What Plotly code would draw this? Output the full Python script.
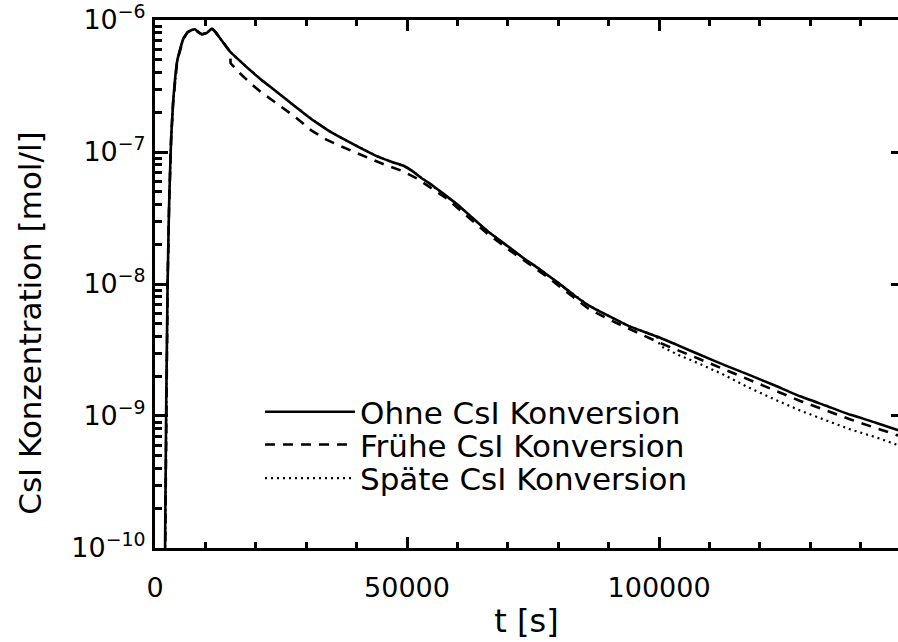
import plotly.graph_objects as go

# ---- data ----
t_ohne = [1900, 2200, 2500, 2800, 3200, 3600, 4400, 5600, 6500, 7300, 7900, 8600, 9300,
          10300, 11300, 12000, 13000, 14900, 17000, 19000, 21000, 23000, 25000, 27000,
          29000, 31000, 33000, 35000, 38000, 41000, 44000, 47000, 49500, 51000, 53000,
          55000, 57000, 60000, 63000, 66000, 70000, 73000, 76000, 80000, 83000, 86000,
          89700, 94000, 99600, 104000, 108000, 113000, 118000, 123000, 128000, 133000,
          138000, 143000, 147500]
c_ohne = [3.2e-11, 1.0e-9, 1.0e-8, 4.0e-8, 1.26e-7, 2.4e-7, 4.9e-7, 7.2e-7, 8.1e-7,
          8.4e-7, 8.5e-7, 8.1e-7, 7.8e-7, 8.0e-7, 8.6e-7, 8.1e-7, 7.2e-7, 5.75e-7,
          4.84e-7, 4.12e-7, 3.55e-7, 3.09e-7, 2.69e-7, 2.34e-7, 2.04e-7, 1.78e-7,
          1.58e-7, 1.41e-7, 1.22e-7, 1.06e-7, 9.3e-8, 8.4e-8, 7.8e-8, 7.2e-8, 6.3e-8,
          5.6e-8, 4.9e-8, 4.0e-8, 3.16e-8, 2.51e-8, 1.93e-8, 1.58e-8, 1.32e-8, 1.02e-8,
          8.3e-9, 6.9e-9, 5.8e-9, 4.8e-9, 4.0e-9, 3.4e-9, 2.92e-9, 2.43e-9, 2.04e-9,
          1.70e-9, 1.41e-9, 1.20e-9, 1.02e-9, 8.9e-10, 7.8e-10]

# early conversion branch (starts at t = 15000 s)
t_fruehe = [15000, 17000, 19000, 21000, 23000, 25000, 28000, 31000, 34000, 37000, 40000,
            43000, 46000, 49000, 52000, 55000, 58000, 62000, 66000, 70000, 74000, 78000,
            82000, 86000, 90000, 95000, 100000, 108000, 118000, 128000, 138000, 147500]
c_fruehe = [4.7e-7, 3.9e-7, 3.3e-7, 2.85e-7, 2.51e-7, 2.21e-7, 1.82e-7, 1.46e-7, 1.24e-7,
            1.10e-7, 9.8e-8, 8.8e-8, 7.9e-8, 7.2e-8, 6.3e-8, 5.3e-8, 4.4e-8, 3.24e-8,
            2.4e-8, 1.84e-8, 1.43e-8, 1.12e-8, 8.5e-9, 6.5e-9, 5.4e-9, 4.4e-9, 3.6e-9,
            2.7e-9, 1.88e-9, 1.30e-9, 9.4e-10, 7.1e-10]

# late conversion branch (starts at t = 100000 s)
t_spaete = [100200, 104000, 108100, 113000, 117500, 123000, 128000, 133000, 138000,
            143000, 147500]
c_spaete = [3.4e-9, 2.88e-9, 2.48e-9, 2.04e-9, 1.66e-9, 1.33e-9, 1.10e-9, 9.3e-10,
            7.9e-10, 6.9e-10, 6.0e-10]

series_names = ["Ohne CsI Konversion", "Frühe CsI Konversion", "Späte CsI Konversion"]

x_tickvals = [0, 50000, 100000]
x_ticktext = ["0", "50000", "100000"]
x_range = [0, 147400]
y_tickvals = [1e-10, 1e-9, 1e-8, 1e-7, 1e-6]
y_ticktext = ["10<sup>−10</sup>", "10<sup>−9</sup>", "10<sup>−8</sup>",
              "10<sup>−7</sup>", "10<sup>−6</sup>"]
y_minor_vals = [k * 10.0 ** d for d in range(-10, -6) for k in range(2, 10)]
y_range_log = [-10.0002, -5.9998]

# build full curves (branches share the base curve before their start time)
t_fr_full = [t for t in t_ohne if t < t_fruehe[0]] + t_fruehe
c_fr_full = [c for t, c in zip(t_ohne, c_ohne) if t < t_fruehe[0]] + c_fruehe
t_sp_full = [t for t in t_ohne if t < t_spaete[0]] + t_spaete
c_sp_full = [c for t, c in zip(t_ohne, c_ohne) if t < t_spaete[0]] + c_spaete

FONT = "DejaVu Sans"
PW, PH, L, B = 743.0, 532.0, 155.0, 548.0


def px(xp):
    return (xp - L) / PW


def py(yp):
    return (B - yp) / PH


fig = go.Figure()
fig.add_trace(go.Scatter(x=t_ohne, y=c_ohne, mode="lines", name=series_names[0],
                         legend="legend",
                         line=dict(color="black", width=2.6, shape="spline",
                                   smoothing=0.4)))
fig.add_trace(go.Scatter(x=t_fr_full, y=c_fr_full, mode="lines", name=series_names[1],
                         legend="legend2",
                         line=dict(color="black", width=2.6, dash="10px,8px")))
fig.add_trace(go.Scatter(x=t_sp_full, y=c_sp_full, mode="lines", name=series_names[2],
                         legend="legend3",
                         line=dict(color="black", width=2.2, dash="2px,4px")))
# helper (empty) trace for the mirrored top / right axes
fig.add_trace(go.Scatter(x=[], y=[], xaxis="x2", yaxis="y2", showlegend=False,
                         hoverinfo="skip"))

leg_common = dict(xanchor="left", yanchor="middle", bgcolor="rgba(0,0,0,0)",
                  borderwidth=0, itemwidth=90,
                  font=dict(family=FONT, size=31, color="black"))
tick_common = dict(ticks="inside", tickwidth=3, tickcolor="black")

fig.update_layout(
    width=898, height=642,
    margin=dict(l=155, r=0, t=16, b=94),
    paper_bgcolor="white", plot_bgcolor="white",
    font=dict(family=FONT, color="black", size=27),
    showlegend=True,
    legend=dict(x=px(260), y=py(411), **leg_common),
    legend2=dict(x=px(260), y=py(444), **leg_common),
    legend3=dict(x=px(260), y=py(478), **leg_common),
    xaxis=dict(range=x_range, showgrid=False, zeroline=False, showline=True,
               linecolor="black", linewidth=3, ticklen=11, **tick_common,
               tickmode="array", tickvals=x_tickvals, ticktext=x_ticktext,
               ticklabelstandoff=14, tickfont=dict(family=FONT, size=27),
               ticklabeloverflow="allow",
               minor=dict(ticklen=6, dtick=10000, showgrid=False, **tick_common),
               title=dict(text="t [s]", font=dict(family=FONT, size=32), standoff=8)),
    xaxis2=dict(range=x_range, overlaying="x", side="top", anchor="y2", showgrid=False,
                zeroline=False, showline=True, linecolor="black", linewidth=3,
                ticklen=11, **tick_common, tickmode="array", tickvals=x_tickvals,
                showticklabels=False,
                minor=dict(ticklen=6, dtick=10000, showgrid=False, **tick_common)),
    yaxis=dict(type="log", range=y_range_log, showgrid=False, zeroline=False,
               showline=True, linecolor="black", linewidth=3, ticklen=13, **tick_common,
               tickmode="array", tickvals=y_tickvals, ticktext=y_ticktext,
               ticklabelstandoff=1, tickfont=dict(family=FONT, size=27),
               ticklabeloverflow="allow",
               minor=dict(ticklen=7, tickmode="array", tickvals=y_minor_vals,
                          showgrid=False, **tick_common)),
    yaxis2=dict(type="log", range=y_range_log, overlaying="y", side="right", anchor="x2",
                showgrid=False, zeroline=False, showline=False, ticklen=7,
                **tick_common, tickmode="array", tickvals=y_tickvals,
                showticklabels=False),
    annotations=[dict(text="CsI Konzentration [mol/l]", xref="paper", yref="paper",
                      x=px(30), y=py(322), xanchor="center", yanchor="middle",
                      textangle=-90, showarrow=False,
                      font=dict(family=FONT, size=31, color="black"))],
)

fig.write_html("out.html")
